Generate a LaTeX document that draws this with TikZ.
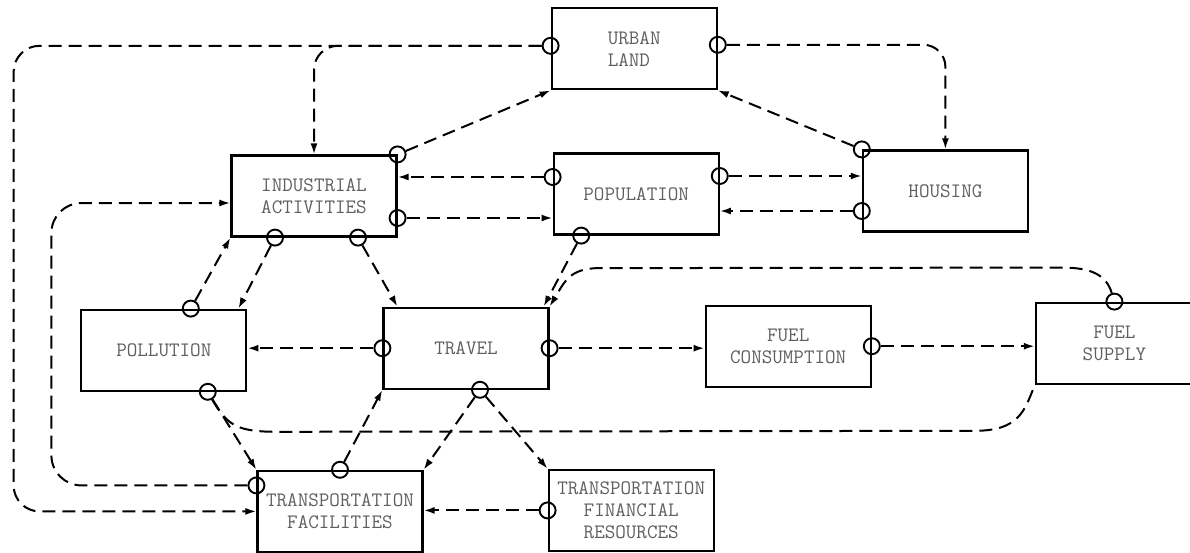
\documentclass[tikz,border=0pt]{standalone}
\usepackage{tikz}
\usetikzlibrary{positioning, arrows.meta, calc}
\definecolor{printgray}{RGB}{95,95,95}
\tikzset{
  box/.style={rectangle, draw, line width=2.2pt, minimum width=165pt, minimum height=81pt,
    align=center, inner sep=2pt, text=printgray, font=\fontsize{20.5}{22}\selectfont\ttfamily},
  port/.style={circle, draw, line width=1.9pt, minimum size=16pt, inner sep=0pt},
  link/.style={-{Latex[length=11pt, width=7pt]}, line width=2pt, dash pattern=on 13pt off 7pt},
  plain/.style={line width=2pt, dash pattern=on 13pt off 7pt},
}

\begin{document}
\begin{tikzpicture}[x=1pt, y=1pt]
    \useasboundingbox (0,0) rectangle (1190,-552);
    % boxes
    \node[box] (ind) at (314,-196) {INDUSTRIAL\\ACTIVITIES};
    \node[box, right=155pt of ind, yshift=2pt] (pop) {POPULATION};
    \node[box, above=62pt of pop, xshift=-2pt, align=left] (ul) {URBAN\\LAND};
    \node[box, right=142pt of pop, yshift=3pt] (hou) {HOUSING};
    \node[box, below=69pt of ind, xshift=152pt] (tra) {TRAVEL};
    \node[box, left=135pt of tra, yshift=-2pt] (pol) {POLLUTION};
    \node[box, right=155pt of tra, yshift=2pt] (fc) {FUEL\\CONSUMPTION};
    \node[box, minimum width=157pt, right=163pt of fc, yshift=3pt] (fs) {FUEL\\SUPPLY};
    \node[box, below=80pt of tra, xshift=-126pt] (tf) {TRANSPORTATION\\FACILITIES};
    \node[box, right=124pt of tf, yshift=1pt] (tfr) {TRANSPORTATION\\FINANCIAL\\RESOURCES};
    % ports
    \node[port] (ulW) at ([yshift=3pt]ul.west) {};
    \node[port] (ulE) at ([yshift=4pt]ul.east) {};
    \node[port] (indNE) at (ind.north east) {};
    \node[port] (indE) at ([yshift=-22pt]ind.east) {};
    \node[port] (indS1) at ([xshift=-39pt]ind.south) {};
    \node[port] (indS2) at ([xshift=44pt]ind.south) {};
    \node[port] (popW) at ([yshift=17pt]pop.west) {};
    \node[port] (popE) at ([yshift=18pt]pop.east) {};
    \node[port] (popS) at ([xshift=-55pt]pop.south) {};
    \node[port] (houNW) at (hou.north west) {};
    \node[port] (houW) at ([yshift=-20pt]hou.west) {};
    \node[port] (polN) at ([xshift=27pt]pol.north) {};
    \node[port] (polS) at ([xshift=44pt]pol.south) {};
    \node[port] (traW) at (tra.west) {};
    \node[port] (traE) at (tra.east) {};
    \node[port] (traS) at ([xshift=14pt]tra.south) {};
    \node[port] (fcE) at (fc.east) {};
    \node[port] (fsN) at (fs.north) {};
    \node[port] (tfW) at ([yshift=26pt]tf.west) {};
    \node[port] (tfN) at (tf.north) {};
    \node[port] (tfrW) at (tfr.west) {};
    % links
    \draw[link] (indNE) -- (ul.south west);
    \draw[link] (houNW) -- (ul.south east);
    \draw[link, rounded corners=22pt] (ulE) -| (hou.north);
    \draw[link, rounded corners=24pt] (ulW) -| (ind.north);
    \draw[link, rounded corners=26pt] (ulW) -- ++(-537pt,0) |- (tf.west);
    \draw[link, rounded corners=30pt] (tfW) -- ++(-205pt,0) |- ([yshift=-7pt]ind.west);
    \draw[link] (popW) -- (popW -| ind.east);
    \draw[link] (indE) -- (indE -| pop.west);
    \draw[link] (popE) -- (popE -| hou.west);
    \draw[link] (houW) -- (houW -| pop.east);
    \draw[link] (indS1) -- ([xshift=-9pt]pol.north east);
    \draw[link] (polN) -- (ind.south west);
    \draw[link] (indS2) -- ([xshift=15pt]tra.north west);
    \draw[link] (popS) -- ([xshift=-6pt]tra.north east);
    \draw[link] (fsN) .. controls +(-8pt,26pt) and +(30pt,0) .. ([xshift=-52pt,yshift=34pt]fs.north)
      -- ([xshift=50pt,yshift=38.5pt]tra.north east) .. controls +(-30pt,0) and +(15pt,25pt) .. (tra.north east);
    \draw[plain] (polS) .. controls +(20pt,-35pt) and +(-40pt,0) .. ([xshift=115pt,yshift=-40pt]pol.south)
      -- ([xshift=-60pt,yshift=-46pt]fs.south west) .. controls +(45pt,0) and +(-10pt,-25pt) .. (fs.south west);
    \draw[link] (traW) -- (traW -| pol.east);
    \draw[link] (traE) -- (traE -| fc.west);
    \draw[link] (fcE) -- (fcE -| fs.west);
    \draw[link] (tfN) -- (tra.south west);
    \draw[link] (traS) -- (tf.north east);
    \draw[link] (traS) -- (tfr.north west);
    \draw[link] (polS) -- (tf.north west);
    \draw[link] (tfrW) -- (tfrW -| tf.east);
\end{tikzpicture}
\end{document}
